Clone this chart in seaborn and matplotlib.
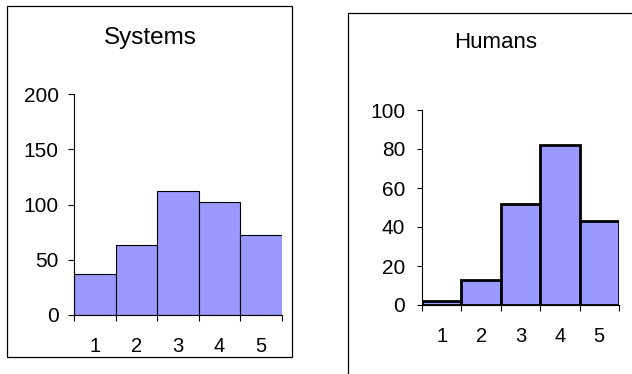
import matplotlib
matplotlib.use("Agg")
import matplotlib.pyplot as plt
from matplotlib.patches import Rectangle
import seaborn as sns
import pandas as pd

categories = ["1", "2", "3", "4", "5"]
systems_values = [37, 63, 112, 102, 72]
humans_values = [2, 13, 52, 82, 43]
systems_yticks = [0, 50, 100, 150, 200]
humans_yticks = [0, 20, 40, 60, 80, 100]

sns.set_theme(style="white")
plt.rcParams['font.family'] = ['Liberation Sans', 'DejaVu Sans']
plt.rcParams['text.color'] = 'black'
plt.rcParams['xtick.color'] = 'black'
plt.rcParams['ytick.color'] = 'black'
plt.rcParams['xtick.labelcolor'] = 'black'
plt.rcParams['ytick.labelcolor'] = 'black'

W, H = 632, 374
fig = plt.figure(figsize=(W / 100, H / 100), dpi=100)
fig.patch.set_facecolor("white")

def px_axes(x0, x1, y_top, y_bot):
    return [x0 / W, 1 - y_bot / H, (x1 - x0) / W, (y_bot - y_top) / H]

ax1 = fig.add_axes(px_axes(74, 282, 94, 315))
ax2 = fig.add_axes(px_axes(422, 619, 110, 305))

bar_color = "#9999FF"

def draw(ax, vals, yticks, lw, ypad, ylen):
    df = pd.DataFrame({"cat": categories, "val": vals})
    sns.barplot(data=df, x="cat", y="val", ax=ax, color=bar_color, width=1.0,
                saturation=1, edgecolor="black", linewidth=lw, order=categories)
    ax.set_xlim(-0.5, len(categories) - 0.5)
    ax.set_ylim(yticks[0], yticks[-1])
    ax.set_yticks(yticks)
    ax.set_yticklabels([str(t) for t in yticks])
    ax.set_xticks(range(len(categories)))
    ax.set_xticklabels(categories)
    ax.set_xticks([i - 0.5 for i in range(len(categories) + 1)], minor=True)
    ax.tick_params(axis="x", which="major", length=0, pad=16, labelsize=14.5,
                   labelcolor="black")
    ax.tick_params(axis="x", which="minor", length=4.5, width=0.8, color="black",
                   direction="out", bottom=True)
    ax.tick_params(axis="y", which="major", length=ylen, width=0.8, color="black",
                   direction="out", left=True, pad=ypad, labelsize=15,
                   labelcolor="black")
    ax.set_xlabel("")
    ax.set_ylabel("")
    for s in ["top", "right"]:
        ax.spines[s].set_visible(False)
    for s in ["left", "bottom"]:
        ax.spines[s].set_color("black")
        ax.spines[s].set_linewidth(0.8)
    ax.set_facecolor("none")

draw(ax1, systems_values, systems_yticks, 0.8, 6.5, 4.5)
draw(ax2, humans_values, humans_yticks, 2.0, 8.5, 3.5)

# Panel borders
fig.patches.append(Rectangle((7.3 / W, 1 - 356.7 / H), (291.7 - 7.3) / W, (356.7 - 6) / H,
                             transform=fig.transFigure, fill=False, edgecolor="black",
                             linewidth=0.9))
fig.patches.append(Rectangle((348.3 / W, 1 - 400 / H), (700 - 348.3) / W, (400 - 12.7) / H,
                             transform=fig.transFigure, fill=False, edgecolor="black",
                             linewidth=0.9))

fig.text(150.8 / W, 1 - 44.3 / H, "Systems", ha="center", va="baseline", fontsize=17.5)
fig.text(495.8 / W, 1 - 48.3 / H, "Humans", ha="center", va="baseline", fontsize=16)

fig.savefig("out.png", dpi=100)
